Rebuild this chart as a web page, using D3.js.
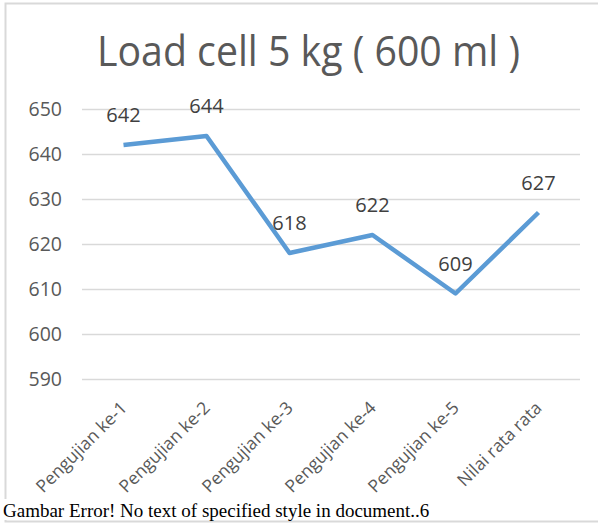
<!DOCTYPE html>
<html>
<head>
<meta charset="utf-8">
<script src="https://cdn.jsdelivr.net/npm/d3@7"></script>
<style>
  html, body { margin: 0; padding: 0; background: #fff; }
  svg { display: block; }
</style>
</head>
<body>
<div id="chart"></div>
<script>
// Values.
const categories = ['Pengujian ke-1', 'Pengujian ke-2', 'Pengujian ke-3', 'Pengujian ke-4', 'Pengujian ke-5', 'Nilai rata rata'];
const values = [642, 644, 618, 622, 609, 627];
const yTicks = [590, 600, 610, 620, 630, 640, 650];
const title = 'Load cell 5 kg ( 600 ml )';
const caption = 'Gambar Error! No text  of specified style in document..6';

const W = 598, H = 524;
const plot = { left: 82, right: 580, top: 109, bottom: 379 };
const FONT = 'Open Sans, sans-serif';

const svg = d3.select('#chart').append('svg')
  .attr('width', W)
  .attr('height', H);

// Frame of the embedded chart object.
svg.append('rect')
  .attr('x', 5.5).attr('y', 3.5)
  .attr('width', W + 10).attr('height', 518)
  .attr('fill', '#fff')
  .attr('stroke', '#d9d9d9')
  .attr('stroke-width', 2);

const x = d3.scalePoint()
  .domain(categories)
  .range([plot.left, plot.right])
  .padding(0.5);

const y = d3.scaleLinear()
  .domain([590, 650])
  .range([plot.bottom, plot.top]);

// Title (stretched to the reference width; Calibri is narrower than Open Sans).
svg.append('text')
  .attr('x', 97).attr('y', 66)
  .attr('font-family', FONT)
  .attr('font-size', 42)
  .attr('fill', '#595959')
  .attr('textLength', 423)
  .attr('lengthAdjust', 'spacingAndGlyphs')
  .text(title);

// Gridlines + y labels.
const yAxis = d3.axisLeft(y)
  .tickValues(yTicks)
  .tickSize(-(plot.right - plot.left))
  .tickPadding(20)
  .tickFormat(d3.format('d'));

svg.append('g')
  .attr('transform', `translate(${plot.left},0)`)
  .call(yAxis)
  .call(g => g.select('.domain').remove())
  .call(g => g.selectAll('line').attr('stroke', '#d9d9d9').attr('stroke-width', 1.5))
  .call(g => g.selectAll('text')
    .attr('font-family', FONT)
    .attr('font-size', 19.5)
    .attr('fill', '#595959'));

// Category labels, rotated -45°.
const xAxis = d3.axisBottom(x).tickSize(0).tickPadding(0);
svg.append('g')
  .attr('transform', `translate(0,${plot.bottom})`)
  .call(xAxis)
  .call(g => g.select('.domain').remove())
  .call(g => g.selectAll('text')
    .attr('font-family', FONT)
    .attr('font-size', 17.5)
    .attr('fill', '#595959')
    .attr('text-anchor', 'end')
    .attr('dy', null)
    .attr('y', 0)
    .attr('transform', 'translate(4,30) rotate(-45)'));

// Line.
const line = d3.line()
  .x((d, i) => x(categories[i]))
  .y(d => y(d));

svg.append('path')
  .datum(values)
  .attr('d', line)
  .attr('fill', 'none')
  .attr('stroke', '#5b9bd5')
  .attr('stroke-width', 4.5)
  .attr('stroke-linejoin', 'round');

// Data labels.
svg.append('g')
  .selectAll('text')
  .data(values)
  .join('text')
  .attr('x', (d, i) => x(categories[i]))
  .attr('y', d => y(d) - 23)
  .attr('text-anchor', 'middle')
  .attr('font-family', FONT)
  .attr('font-size', 20)
  .attr('fill', '#404040')
  .text(d => d);

// Caption below the chart (drawn over the labels, as in the reference).
svg.append('rect')
  .attr('x', 0).attr('y', 499)
  .attr('width', 440).attr('height', 21)
  .attr('fill', '#fff');

svg.append('text')
  .attr('x', 3).attr('y', 517)
  .attr('font-family', 'Liberation Serif, serif')
  .attr('font-size', 19)
  .attr('fill', '#000')
  .text(caption);
</script>
</body>
</html>
